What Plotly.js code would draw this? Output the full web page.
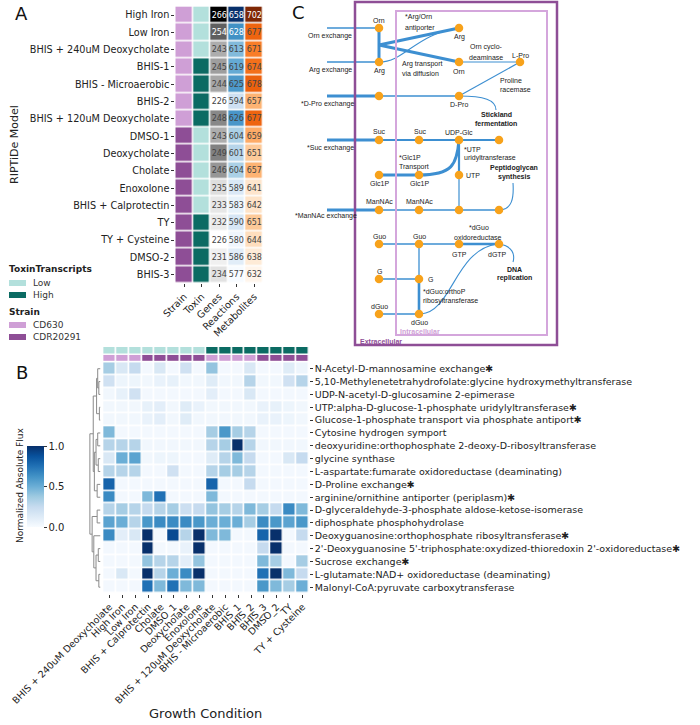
<!DOCTYPE html>
<html><head><meta charset="utf-8">
<script src="https://cdn.plot.ly/plotly-3.0.1.min.js"></script>
<style>html,body{margin:0;padding:0;background:#fff}</style>
</head><body><div id="chart" style="width:700px;height:725px"></div>
<script>
// ---------------- Panel A data ----------------
const models = ["High Iron","Low Iron","BHIS + 240uM Deoxycholate","BHIS-1","BHIS - Microaerobic","BHIS-2","BHIS + 120uM Deoxycholate","DMSO-1","Deoxycholate","Cholate","Enoxolone","BHIS + Calprotectin","TY","TY + Cysteine","DMSO-2","BHIS-3"];
const modelStrain = ["CD630","CD630","CD630","CD630","CD630","CD630","CD630","CDR20291","CDR20291","CDR20291","CDR20291","CDR20291","CDR20291","CDR20291","CDR20291","CDR20291"];
const modelToxin = ["Low","Low","Low","High","High","High","High","Low","Low","Low","Low","Low","High","High","High","High"];
const genes = [266,254,243,245,244,226,248,243,249,246,235,233,232,226,231,234];
const reactions = [658,628,613,619,625,594,626,604,601,604,589,583,590,580,586,577];
const metabolites = [702,677,671,674,678,657,677,659,651,657,641,642,651,644,638,632];
const colsA = ["Strain","Toxin","Genes","Reactions","Metabolites"];

// ---------------- Panel B data ----------------
const conditions = ["BHIS + 240uM Deoxycholate","High Iron","Low Iron","BHIS + Calprotectin","Cholate","DMSO_1","Deoxycholate","Enoxolone","BHIS + 120uM Deoxycholate","BHIS - Microaerobic","BHIS_1","BHIS_2","BHIS_3","DMSO_2","TY","TY + Cysteine"];
const condToxin = ["Low","Low","Low","Low","Low","Low","Low","Low","High","High","High","High","High","High","High","High"];
const condStrain = ["CD630","CD630","CD630","CDR20291","CDR20291","CDR20291","CDR20291","CDR20291","CD630","CD630","CD630","CD630","CDR20291","CDR20291","CDR20291","CDR20291"];
const reactionNames = ["N-Acetyl-D-mannosamine exchange","5,10-Methylenetetrahydrofolate:glycine hydroxymethyltransferase","UDP-N-acetyl-D-glucosamine 2-epimerase","UTP:alpha-D-glucose-1-phosphate uridylyltransferase","Glucose-1-phosphate transport via phosphate antiport","Cytosine hydrogen symport","deoxyuridine:orthophosphate 2-deoxy-D-ribosyltransferase","glycine synthase","L-aspartate:fumarate oxidoreductase (deaminating)","D-Proline exchange","arginine/ornithine antiporter (periplasm)","D-glyceraldehyde-3-phosphate aldose-ketose-isomerase","diphosphate phosphohydrolase","Deoxyguanosine:orthophosphate ribosyltransferase","2'-Deoxyguanosine 5'-triphosphate:oxydized-thioredoxin 2'-oxidoreductase","Sucrose exchange","L-glutamate:NAD+ oxidoreductase (deaminating)","Malonyl-CoA:pyruvate carboxytransferase"];
const starred = [true,false,false,true,true,false,false,false,false,true,true,false,false,true,true,true,false,false];
const flux = [
 [0.35,0.15,0.25,0.02,0.15,0.02,0.20,0.02,0.40,0.02,0.02,0.15,0.02,0.02,0.12,0.05],
 [0.20,0.05,0.05,0.03,0.07,0.08,0.03,0.03,0.12,0.03,0.03,0.30,0.03,0.03,0.20,0.30],
 [0.03,0.08,0.20,0.02,0.02,0.02,0.02,0.02,0.10,0.02,0.02,0.15,0.02,0.02,0.02,0.02],
 [0.03,0.03,0.03,0.08,0.10,0.03,0.12,0.07,0.03,0.03,0.03,0.03,0.07,0.08,0.05,0.03],
 [0.03,0.03,0.03,0.07,0.10,0.03,0.12,0.03,0.03,0.03,0.03,0.03,0.07,0.07,0.05,0.03],
 [0.45,0.02,0.02,0.02,0.02,0.02,0.02,0.02,0.35,0.60,0.35,0.30,0.02,0.02,0.02,0.02],
 [0.30,0.30,0.30,0.03,0.03,0.03,0.03,0.03,0.30,0.35,1.00,0.30,0.03,0.03,0.03,0.03],
 [0.15,0.50,0.55,0.03,0.05,0.05,0.02,0.02,0.12,0.30,0.45,0.25,0.02,0.02,0.15,0.25],
 [0.30,0.30,0.30,0.02,0.02,0.20,0.02,0.02,0.30,0.35,0.35,0.30,0.02,0.02,0.02,0.02],
 [0.80,0.02,0.02,0.02,0.02,0.02,0.02,0.02,0.80,0.02,0.02,0.25,0.02,0.02,0.02,0.02],
 [0.65,0.02,0.02,0.45,0.75,0.02,0.02,0.02,0.45,0.02,0.02,0.02,0.02,0.02,0.02,0.02],
 [0.30,0.35,0.30,0.25,0.30,0.35,0.22,0.25,0.40,0.35,0.30,0.45,0.35,0.25,0.65,0.45],
 [0.55,0.50,0.30,0.60,0.65,0.65,0.65,0.60,0.50,0.50,0.50,0.35,0.65,0.60,0.55,0.60],
 [0.65,0.10,0.15,1.00,0.02,0.90,0.30,1.00,0.45,0.45,0.02,0.02,0.80,1.00,0.02,0.25],
 [0.02,0.02,0.02,1.00,0.02,0.02,0.07,1.00,0.02,0.02,0.02,0.02,0.25,1.00,0.02,0.02],
 [0.02,0.02,0.02,0.40,0.30,0.30,0.10,0.40,0.02,0.02,0.02,0.02,0.45,0.35,0.02,0.35],
 [0.02,0.15,0.02,1.00,0.30,0.50,0.65,1.00,0.02,0.02,0.02,0.02,0.75,1.00,0.45,0.25],
 [0.02,0.02,0.02,0.75,0.45,0.75,0.45,0.45,0.02,0.02,0.02,0.02,0.60,0.45,0.35,0.50]
];
// dendrogram linkage: [childA, childB, height]; ids >= 18 refer to earlier merges
const linkage = [
 [3,4,1.0],[1,2,1.5],[0,19,2.5],[20,18,3.5],[5,6,2.5],[7,8,2.0],[22,23,4.0],[9,10,3.0],
 [24,25,5.5],[21,26,6.5],[11,12,3.0],[14,15,2.0],[16,17,1.5],[29,30,4.0],[13,31,6.0],
 [28,32,7.5],[27,33,9.5]
];

// ---------------- Panel C data ----------------
const nodes = {
 Orn_e:[379,28], Arg_e:[379,62], Arg_i:[459,28], Orn_i:[459,62], LPro:[520,62],
 DPro_x:[327,96], DPro_e:[379,96], DPro_i:[459,96],
 Suc_x:[327,140], Suc_e:[379,140], Suc_i:[419,140], UDPGlc:[459,140], PG1:[499,140],
 Glc_e:[379,175], Glc_i:[419,175], UTP:[459,175],
 Man_x:[327,210], Man_e:[379,210], Man_i:[419,210], Man3:[459,210], Man4:[499,210],
 Guo_e:[379,244], Guo_i:[419,244], GTP:[459,244], dGTP:[499,244],
 G_e:[379,279], G_i:[419,279], dGuo_e:[379,314], dGuo_i:[419,314],
 Orn_x:[327,28], Arg_x:[327,62], Anti:[379,45]
};
const shownNodes = ["Orn_e","Arg_e","Arg_i","Orn_i","LPro","DPro_e","DPro_i","Suc_e","Suc_i","UDPGlc","PG1","Glc_e","Glc_i","UTP","Man_e","Man_i","Man3","Man4","Guo_e","Guo_i","GTP","dGTP","G_e","G_i","dGuo_e","dGuo_i"];
const edges = [
 ["Orn_x","Orn_e",1.3],["Arg_x","Arg_e",1.3],["DPro_x","DPro_e",3],["Suc_x","Suc_e",3],["Man_x","Man_e",3],
 ["Orn_e","Arg_e",3],["Anti","Arg_i",3],["Anti","Orn_i",3],
 ["Orn_i","LPro",1.2],["LPro","DPro_i",1.2],["DPro_e","DPro_i",1.3],
 ["Suc_e","Suc_i",1.8],["Suc_i","UDPGlc",1.8],["UDPGlc","PG1",1.8],
 ["Glc_e","Glc_i",3],["UDPGlc","UTP",2.2],["UTP","Man3",1.2],
 ["Man_e","Man_i",1.5],["Man_i","Man3",1.5],["Man3","Man4",1.5],
 ["Guo_e","Guo_i",1.3],["Guo_i","GTP",1.3],["GTP","dGTP",2.6],
 ["Guo_i","G_i",1.3],["G_i","dGuo_i",2.6],["G_e","G_i",1.3],["dGuo_e","dGuo_i",1.6]
];
const curves = [
 ["M379,62 C405,62 415,34 459,28",1.1],
 ["M459,96 C484,96 496,100 496,110",1.1],
 ["M419,175 C452,175 457,165 459,140",3],
 ["M499,210 C512,210 514,198 513,183",1.1],
 ["M421,314 C452,312 455,250 497,244",1.1],
 ["M499,244 C513,246 515,255 513,262",1.1]
];
const cLabels = [
 ["Orn",379,20,"center"],["Orn exchange",330,36,"center"],["Arg exchange",330,70,"center"],
 ["*D-Pro exchange",327,104,"center"],["*Suc exchange",330,148,"center"],["*ManNAc exchange",326,216,"center"],
 ["Arg",379,71,"center"],["*Arg/Orn",403,17,"left"],["antiporter",403,28,"left"],["Arg",459,37,"center"],
 ["Arg transport",400,64,"left"],["via diffusion",400,73,"left"],["Orn",459,71,"center"],
 ["Orn cyclo-",486,47,"center"],["deaminase",486,57,"center"],["L-Pro",520,55,"center"],
 ["Proline",498,80,"left"],["racemase",498,89,"left"],["D-Pro",459,104,"center"],
 ["<b>Stickland</b>",496,114,"center"],["<b>fermentation</b>",496,123,"center"],
 ["Suc",379,131,"center"],["Suc",420,131,"center"],["UDP-Glc",459,132,"center"],
 ["*UTP",462,149,"left"],["uridyltransferase",462,158,"left"],["*Glc1P",397,157,"left"],["Transport",397,167,"left"],
 ["Glc1P",379,183,"center"],["Glc1P",419,183,"center"],["UTP",464,175,"left"],
 ["<b>Peptidoglycan</b>",514,168,"center"],["<b>synthesis</b>",514,177,"center"],
 ["ManNAc",379,201,"center"],["ManNAc",419,201,"center"],
 ["*dGuo",467,227,"left"],["oxidoreductase",478,237,"center"],["Guo",379,236,"center"],["Guo",419,236,"center"],
 ["GTP",459,254,"center"],["dGTP",497,254,"center"],["<b>DNA</b>",514,269,"center"],["<b>replication</b>",514,278,"center"],
 ["G",379,271,"center"],["G",426,279,"left"],["*dGuo:orthoP",421,291,"left"],["ribosyltransferase",421,301,"left"],
 ["dGuo",379,306,"center"],["dGuo",419,322,"center"]
];

// ---------------- helpers ----------------
const W=700,H=725;
const px=x=>x/W, py=y=>1-y/H;
const greys=[[0,'#ffffff'],[0.125,'#f0f0f0'],[0.25,'#d9d9d9'],[0.375,'#bdbdbd'],[0.5,'#969696'],[0.625,'#737373'],[0.75,'#525252'],[0.875,'#252525'],[1,'#000000']];
const blues=[[0,'#f7fbff'],[0.125,'#deebf7'],[0.25,'#c6dbef'],[0.375,'#9ecae1'],[0.5,'#6baed6'],[0.625,'#4292c6'],[0.75,'#2171b5'],[0.875,'#08519c'],[1,'#08306b']];
const oranges=[[0,'#fff5eb'],[0.125,'#fee6ce'],[0.25,'#fdd0a2'],[0.375,'#fdae6b'],[0.5,'#fd8d3c'],[0.625,'#f16913'],[0.75,'#d94801'],[0.875,'#a63603'],[1,'#7f2704']];
const strainCol={CD630:'#cf9fd6',CDR20291:'#8e4e96'};
const toxinCol={Low:'#b3e0dc',High:'#0b6b63'};
const twoScale=(a,b)=>[[0,a],[0.5,a],[0.5,b],[1,b]];

const traces=[];
function colTrace(name,vals,cs,withText,zmin,zmax){
 const t={type:'heatmap',x:colsA,y:models,
  z:vals.map(v=>colsA.map(c=>c===name?v:null)),
  colorscale:cs,zmin:zmin!==undefined?zmin:Math.min(...vals),zmax:zmax!==undefined?zmax:Math.max(...vals),showscale:false,
  xgap:1.5,ygap:1.5,xaxis:'x',yaxis:'y',hoverinfo:'skip'};
 if(withText){t.texttemplate='%{z}';t.textfont={size:8,family:'DejaVu Sans'};}
 return t;
}
traces.push(colTrace('Strain',modelStrain.map(s=>s==='CD630'?0:1),twoScale(strainCol.CD630,strainCol.CDR20291),false,0,1));
traces.push(colTrace('Toxin',modelToxin.map(s=>s==='Low'?0:1),twoScale(toxinCol.Low,toxinCol.High),false,0,1));
traces.push(colTrace('Genes',genes,greys,true));
traces.push(colTrace('Reactions',reactions,blues,true));
traces.push(colTrace('Metabolites',metabolites,oranges,true));

// Panel B main heatmap
traces.push({type:'heatmap',x:conditions,y:reactionNames,z:flux,colorscale:blues,zmin:0,zmax:1,xgap:1.6,ygap:1.6,
 xaxis:'x2',yaxis:'y2',hoverinfo:'skip',
 colorbar:{x:px(27),xanchor:'left',y:py(486.5),yanchor:'middle',len:81,lenmode:'pixels',thickness:17,thicknessmode:'pixels',
  tickvals:[0,0.5,1],ticktext:['0.0','0.5','1.0'],ticks:'outside',ticklen:3,tickcolor:'#333',tickfont:{size:10,family:'DejaVu Sans',color:'#222'},outlinewidth:0,xpad:0,ypad:0}});
traces.push({type:'heatmap',x:conditions,y:['Toxin'],z:[condToxin.map(s=>s==='Low'?0:1)],colorscale:twoScale(toxinCol.Low,toxinCol.High),zmin:0,zmax:1,
 showscale:false,xgap:1.6,xaxis:'x2',yaxis:'y5',hoverinfo:'skip'});
traces.push({type:'heatmap',x:conditions,y:['Strain'],z:[condStrain.map(s=>s==='CD630'?0:1)],colorscale:twoScale(strainCol.CD630,strainCol.CDR20291),zmin:0,zmax:1,
 showscale:false,xgap:1.6,xaxis:'x2',yaxis:'y6',hoverinfo:'skip'});

// dendrogram
(function(){
 const n=reactionNames.length; const pos=[],ht=[];
 for(let i=0;i<n;i++){pos.push(i);ht.push(0);}
 const dx=[],dy=[];
 linkage.forEach(([a,b,h])=>{
  dx.push(ht[a],h,h,ht[b],null); dy.push(pos[a],pos[a],pos[b],pos[b],null);
  pos.push((pos[a]+pos[b])/2); ht.push(h);
 });
 traces.push({type:'scatter',mode:'lines',x:dx,y:dy,line:{color:'#8a8a8a',width:1},xaxis:'x4',yaxis:'y4',hoverinfo:'skip',connectgaps:false});
})();

// Panel C edges and nodes
const byW={};
edges.forEach(([a,b,w])=>{(byW[w]=byW[w]||[]).push([a,b]);});
Object.keys(byW).forEach(w=>{
 const xs=[],ys=[];
 byW[w].forEach(([a,b])=>{xs.push(nodes[a][0],nodes[b][0],null);ys.push(nodes[a][1],nodes[b][1],null);});
 traces.push({type:'scatter',mode:'lines',x:xs,y:ys,line:{color:'#3d8fd1',width:+w},xaxis:'x3',yaxis:'y3',hoverinfo:'skip'});
});
traces.push({type:'scatter',mode:'markers',x:shownNodes.map(k=>nodes[k][0]),y:shownNodes.map(k=>nodes[k][1]),
 marker:{color:'#f7a21b',size:8.5,line:{width:0}},xaxis:'x3',yaxis:'y3',hoverinfo:'skip'});

// ---------------- layout ----------------
const shapes=[];
curves.forEach(([p,w])=>shapes.push({type:'path',path:p,xref:'x3',yref:'y3',line:{color:'#3d8fd1',width:w},layer:'below'}));
shapes.push({type:'rect',xref:'x3',yref:'y3',x0:355,x1:557,y0:2,y1:345,line:{color:'#8e4e96',width:2.5}});
shapes.push({type:'rect',xref:'x3',yref:'y3',x0:396,x1:547,y0:11,y1:335,line:{color:'#d4a6dc',width:2}});
// legend swatches panel A
[[280,toxinCol.Low],[292,toxinCol.High],[322,strainCol.CD630],[334,strainCol.CDR20291]].forEach(([y,c])=>{
 shapes.push({type:'rect',xref:'paper',yref:'paper',x0:px(9),x1:px(26),y0:py(y),y1:py(y+6),fillcolor:c,line:{width:0}});
});

const ann=[];
const A=(text,x,y,o)=>ann.push(Object.assign({text,x:px(x),y:py(y),xref:'paper',yref:'paper',showarrow:false,xanchor:'left',yanchor:'middle',
 font:{family:'DejaVu Sans',size:10,color:'#222'}},o||{}));
A('A',13,14,{font:{family:'DejaVu Sans',size:18,color:'#111'}});
A('B',14,372,{font:{family:'DejaVu Sans',size:18,color:'#111'}});
A('C',290,12,{font:{family:'DejaVu Sans',size:18,color:'#111'}});
A('RIPTiDe Model',15,145,{textangle:-90,xanchor:'center',yanchor:'middle',font:{family:'DejaVu Sans',size:11,color:'#222'}});
A('<b>ToxinTranscripts</b>',7,269,{font:{family:'DejaVu Sans',size:9,color:'#222'}});
A('Low',31,283,{font:{family:'DejaVu Sans',size:9,color:'#333'}});
A('High',31,295,{font:{family:'DejaVu Sans',size:9,color:'#333'}});
A('<b>Strain</b>',7,312,{font:{family:'DejaVu Sans',size:9,color:'#222'}});
A('CD630',31,325,{font:{family:'DejaVu Sans',size:9,color:'#333'}});
A('CDR20291',31,337,{font:{family:'DejaVu Sans',size:9,color:'#333'}});
A('Normalized Absolute Flux',20,486,{textangle:-90,xanchor:'center',yanchor:'middle',font:{family:'DejaVu Sans',size:9,color:'#222'}});
A('Growth Condition',205,713,{xanchor:'center',font:{family:'DejaVu Sans',size:13,color:'#222'}});
cLabels.forEach(([t,x,y,al])=>ann.push({text:t,x,y,xref:'x3',yref:'y3',showarrow:false,xanchor:al==='left'?'left':'center',yanchor:'middle',
 font:{family:'Liberation Sans',size:7,color:'#222'}}));
ann.push({text:'<b>Intracellular</b>',x:398,y:331,xref:'x3',yref:'y3',showarrow:false,xanchor:'left',yanchor:'middle',font:{family:'Liberation Sans',size:7,color:'#cf9fd6'}});
ann.push({text:'<b>Extracellular</b>',x:358,y:341,xref:'x3',yref:'y3',showarrow:false,xanchor:'left',yanchor:'middle',font:{family:'Liberation Sans',size:7,color:'#8e4e96'}});

const hid={showgrid:false,zeroline:false,showticklabels:false,ticks:'',showline:false,fixedrange:true};
const tickA={family:'DejaVu Sans',size:9.7,color:'#222'};
const tickB={family:'DejaVu Sans',size:9.5,color:'#222'};
const layout={
 width:W,height:H,margin:{l:0,r:0,t:0,b:0},paper_bgcolor:'#fff',plot_bgcolor:'rgba(0,0,0,0)',showlegend:false,
 font:{family:'DejaVu Sans',color:'#222'},
 xaxis:{domain:[px(175.3),px(262.8)],anchor:'y',type:'category',categoryorder:'array',categoryarray:colsA,tickangle:-45,
  tickmode:'array',tickvals:colsA,ticktext:colsA,range:[-0.5,4.5],
  ticks:'outside',ticklen:3,tickcolor:'#333',tickfont:tickA,showgrid:false,zeroline:false,showline:false,automargin:false},
 yaxis:{domain:[py(283.3),py(6.4)],anchor:'x',type:'category',categoryorder:'array',categoryarray:models,range:[15.5,-0.5],
  tickmode:'array',tickvals:models,ticktext:models,
  ticks:'outside',ticklen:3,tickcolor:'#333',tickfont:tickA,showgrid:false,zeroline:false,showline:false,automargin:false},
 xaxis2:{domain:[px(103.2),px(308.9)],anchor:'y2',type:'category',categoryorder:'array',categoryarray:conditions,tickangle:-45,
  tickmode:'array',tickvals:conditions,ticktext:conditions,range:[-0.5,15.5],
  ticks:'outside',ticklen:3,tickcolor:'#333',tickfont:tickB,showgrid:false,zeroline:false,showline:false,automargin:false},
 yaxis2:{domain:[py(593.6),py(362.3)],anchor:'x2',side:'right',type:'category',categoryorder:'array',categoryarray:reactionNames,range:[17.5,-0.5],
  tickmode:'array',tickvals:reactionNames,ticktext:reactionNames.map((r,i)=>starred[i]?r+'✱':r),
  ticks:'outside',ticklen:3,tickcolor:'#333',tickfont:tickB,showgrid:false,zeroline:false,showline:false,automargin:false},
 yaxis5:Object.assign({domain:[py(353.6),py(347)],anchor:'x2'},hid),
 yaxis6:Object.assign({domain:[py(361.2),py(354.8)],anchor:'x2'},hid),
 xaxis4:Object.assign({domain:[px(89),px(100.5)],anchor:'y4',range:[10.3,0]},hid),
 yaxis4:Object.assign({domain:[py(593.6),py(362.3)],anchor:'x4',range:[17.5,-0.5]},hid),
 xaxis3:Object.assign({domain:[px(280),px(567)],anchor:'y3',range:[280,567]},hid),
 yaxis3:Object.assign({domain:[py(350),1],anchor:'x3',range:[350,0]},hid),
 shapes, annotations:ann
};
Plotly.newPlot('chart',traces,layout,{displayModeBar:false,staticPlot:true});
</script></body></html>
